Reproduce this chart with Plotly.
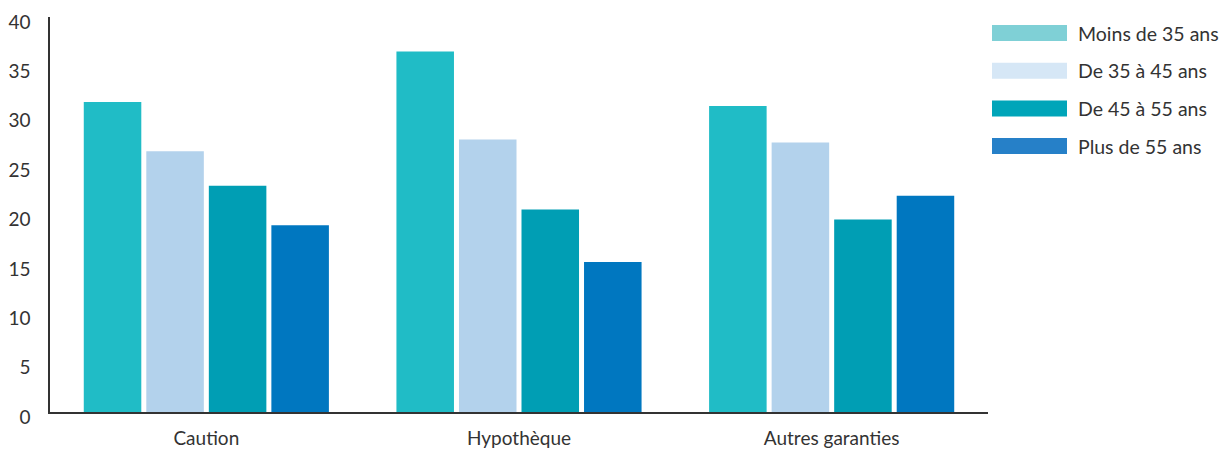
import plotly.graph_objects as go

categories = ["Caution", "Hypothèque", "Autres garanties"]
series_names = ["Moins de 35 ans", "De 35 à 45 ans", "De 45 à 55 ans", "Plus de 55 ans"]
moins_35 = [31.4, 36.5, 31.0]
de_35_45 = [26.4, 27.6, 27.3]
de_45_55 = [22.9, 20.5, 19.5]
plus_55 = [18.9, 15.2, 21.9]
y_ticks = [0, 5, 10, 15, 20, 25, 30, 35, 40]

bar_colors = ["#20BCC6", "#B3D2EC", "#009EB4", "#0077C0"]
legend_colors = ["#7FD0D6", "#D6E7F6", "#00A5B9", "#2680C8"]

FONT = "Lato, 'Open Sans', sans-serif"
TEXT = "#333333"

fig = go.Figure()
for name, vals, col in zip(series_names, [moins_35, de_35_45, de_45_55, plus_55], bar_colors):
    fig.add_trace(go.Bar(x=categories, y=vals, name=name, marker=dict(color=col, line=dict(width=0)),
                         showlegend=False))

# Custom legend: wide colour swatches with labels on the right side
legend_top = 25
legend_step = 37.7
H = 450
for i, (name, col) in enumerate(zip(series_names, legend_colors)):
    y0 = legend_top + i * legend_step
    fig.add_shape(type="rect", xref="paper", yref="paper",
                  x0=(992 - 50) / 938, x1=(1067 - 50) / 938,
                  y0=(H - 38 - (y0 + 16)) / 395, y1=(H - 38 - y0) / 395,
                  fillcolor=col, line=dict(width=0))
    fig.add_annotation(xref="paper", yref="paper", x=(1076 - 50) / 938,
                       y=(H - 38 - (y0 + 8)) / 395, text=name, showarrow=False,
                       xanchor="left", yanchor="middle",
                       font=dict(family=FONT, size=19.5, color=TEXT))

fig.update_layout(
    width=1228, height=450,
    margin=dict(l=50, r=240, t=17, b=38),
    paper_bgcolor="white", plot_bgcolor="white",
    barmode="group", bargap=0.2, bargroupgap=0.08,
    font=dict(family=FONT, color=TEXT),
    xaxis=dict(showline=True, linecolor="#333333", linewidth=1.5, showgrid=False,
               ticks="", automargin=False, ticklabelstandoff=8,
               tickfont=dict(family=FONT, size=19, color=TEXT)),
    yaxis=dict(range=[0, 40], tickvals=y_ticks, showline=True, linecolor="#333333",
               linewidth=1.5, showgrid=False, zeroline=False, ticks="", automargin=False,
               ticklabelstandoff=14, ticklabelshift=5, ticklabeloverflow="allow",
               tickfont=dict(family=FONT, size=19, color=TEXT)),
)

fig.write_html("out.html")
